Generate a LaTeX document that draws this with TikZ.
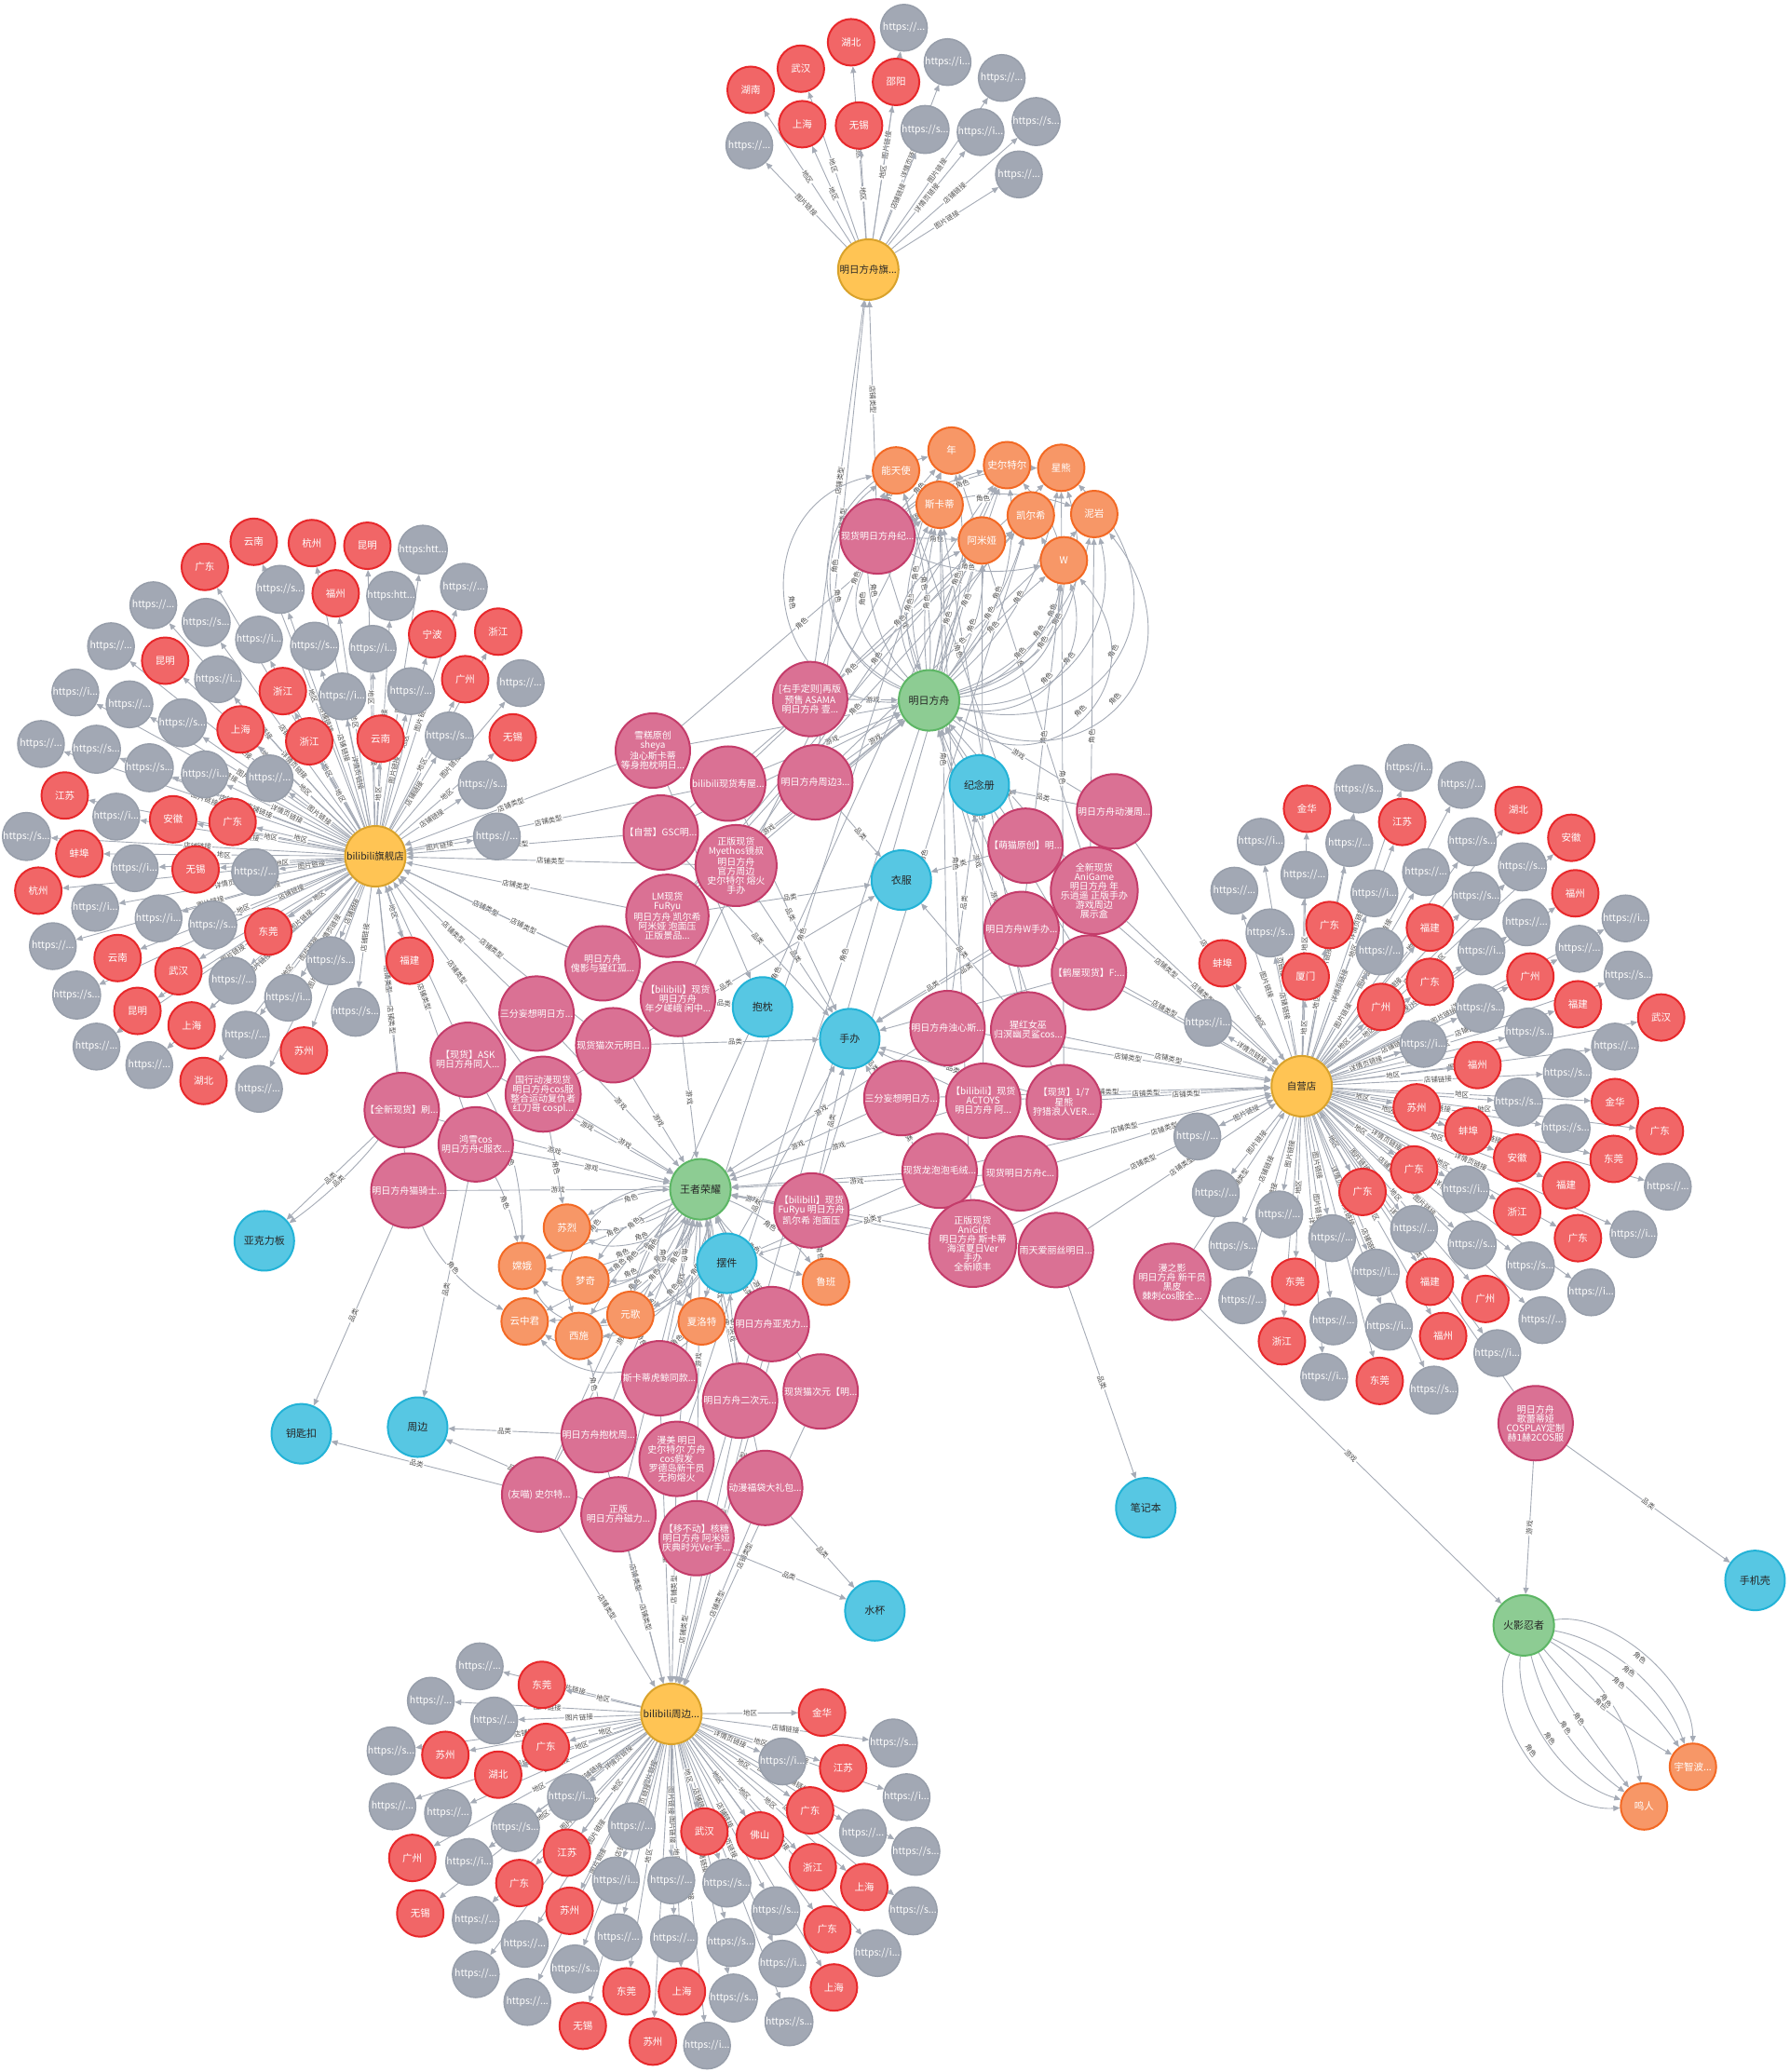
\documentclass[tikz,border=0pt]{standalone}
\usepackage{fontspec}
\setmainfont{Noto Sans CJK SC}
\usetikzlibrary{arrows.meta,calc}
\pgfdeclarelayer{back}
\pgfdeclarelayer{bg}
\pgfsetlayers{back,bg,main}
\definecolor{cgray}{HTML}{A2A8B4}
\definecolor{cgrayb}{HTML}{979EAA}
\definecolor{cred}{HTML}{F16667}
\definecolor{credb}{HTML}{E8282B}
\definecolor{cyel}{HTML}{FFC454}
\definecolor{cyelb}{HTML}{D9A22B}
\definecolor{cpink}{HTML}{DA7194}
\definecolor{cpinkb}{HTML}{C43C6A}
\definecolor{cblue}{HTML}{57C7E3}
\definecolor{cblueb}{HTML}{23B3D7}
\definecolor{cgreen}{HTML}{8DCC93}
\definecolor{cgreenb}{HTML}{5DB665}
\definecolor{corange}{HTML}{F79767}
\definecolor{coranb}{HTML}{F36924}
\definecolor{cedge}{HTML}{A5ABB6}
\definecolor{ctext}{HTML}{505050}
\expandafter\def\csname ut0\endcsname{https://...}
\expandafter\def\csname uti\endcsname{https://i...}
\expandafter\def\csname uts\endcsname{https://s...}
\expandafter\def\csname uth\endcsname{https:htt...}
\expandafter\def\csname ul0\endcsname{图片链接}
\expandafter\def\csname uli\endcsname{详情页链接}
\expandafter\def\csname uls\endcsname{店铺链接}
\expandafter\def\csname ulh\endcsname{图片链接}
\tikzset{
  nbase/.style={circle,inner sep=0pt,align=center,text=white,font=\fontsize{10.5}{10}\selectfont},
  gnode/.style={nbase,minimum size=50pt,fill=cgray,draw=cgrayb,line width=1.5pt},
  rnode/.style={nbase,minimum size=50pt,fill=cred,draw=credb,line width=2pt},
  onode/.style={nbase,minimum size=50pt,fill=corange,draw=coranb,line width=2pt},
  hnode/.style={nbase,minimum size=65pt,fill=cyel,draw=cyelb,line width=2pt,text=black!85,font=\fontsize{10.5}{11}\selectfont},
  pnode/.style={nbase,minimum size=80pt,fill=cpink,draw=cpinkb,line width=2pt,font=\fontsize{10}{10}\selectfont},
  bnode/.style={nbase,minimum size=64pt,fill=cblue,draw=cblueb,line width=2pt,text=black!85,font=\fontsize{11}{11}\selectfont},
  vnode/.style={nbase,minimum size=65pt,fill=cgreen,draw=cgreenb,line width=2pt,text=black!85,font=\fontsize{11}{11}\selectfont},
  lnk/.style={draw=cedge,line width=0.9pt,-{Triangle[length=7pt,width=6pt]}},
  elab/.style={midway,sloped,fill=white,inner sep=0.7pt,text=ctext,font=\fontsize{7.5}{7.5}\selectfont},
}
\newcommand\leafsG[3]{%
 \foreach \x/\y/\k [count=\i] in {#3} {
   \node[gnode] (#2\i) at (\x,\y) {\csname ut\k\endcsname};
   \begin{pgfonlayer}{bg}\draw[lnk] (#1) -- node[elab]{\csname ul\k\endcsname} (#2\i);\end{pgfonlayer}
 }}
\newcommand\leafsR[3]{%
 \foreach \x/\y/\nm [count=\i] in {#3} {
   \node[rnode] (#2\i) at (\x,\y) {\nm};
   \begin{pgfonlayer}{bg}\draw[lnk] (#1) -- node[elab]{地区} (#2\i);\end{pgfonlayer}
 }}
\begin{document}
\begin{tikzpicture}[x=1.41949pt,y=-1.41949pt]
\begin{pgfonlayer}{back}
\fill[white] (0,0) rectangle (1354,1568);
\end{pgfonlayer}
\useasboundingbox (0,0) rectangle (1354,1568);

% hubs
\node[hnode] (H1) at (657,204) {明日方舟旗...};
\node[hnode] (H2) at (284,648) {bilibili旗舰店};
\node[hnode] (H3) at (985,822) {自营店};
\node[hnode] (H4) at (508,1297) {bilibili周边...};

% games
\node[vnode] (G1) at (703,530) {明日方舟};
\node[vnode] (G2) at (530,900) {王者荣耀};
\node[vnode] (G3) at (1153,1230) {火影忍者};

% categories
\node[bnode] (C1) at (741,594) {纪念册};
\node[bnode] (C2) at (682,666) {衣服};
\node[bnode] (C3) at (577,762) {抱枕};
\node[bnode] (C4) at (643,786) {手办};
\node[bnode] (C5) at (550,956) {摆件};
\node[bnode] (C6) at (200,939) {亚克力板};
\node[bnode] (C7) at (228,1085) {钥匙扣};
\node[bnode] (C8) at (316,1080) {周边};
\node[bnode] (C9) at (867,1141) {笔记本};
\node[bnode] (C10) at (662,1219) {水杯};
\node[bnode] (C11) at (1328,1196) {手机壳};

% roles
\node[onode] (O1) at (678,356) {能天使};
\node[onode] (O2) at (720,341) {年};
\node[onode] (O3) at (762,352) {史尔特尔};
\node[onode] (O4) at (803,354) {星熊};
\node[onode] (O5) at (711,382) {斯卡蒂};
\node[onode] (O6) at (780,390) {凯尔希};
\node[onode] (O7) at (828,389) {泥岩};
\node[onode] (O8) at (743,409) {阿米娅};
\node[onode] (O9) at (805,424) {W};
\node[onode] (R1) at (429,929) {苏烈};
\node[onode] (R2) at (395,958) {嫦娥};
\node[onode] (R3) at (443,969) {梦奇};
\node[onode] (R4) at (397,1000) {云中君};
\node[onode] (R5) at (438,1011) {西施};
\node[onode] (R6) at (477,995) {元歌};
\node[onode] (R7) at (531,1000) {夏洛特};
\node[onode] (R8) at (625,970) {鲁班};
\node[onode] (R9) at (1281,1337) {宇智波...};
\node[onode] (R10) at (1244,1367) {鸣人};

% products
\node[pnode] (P1) at (664,406) {现货明日方舟纪...};
\node[pnode] (P2) at (613,529) {[右手定则]再版\\预售 ASAMA\\明日方舟 壹...};
\node[pnode] (P3) at (494,568) {雪糕原创\\sheya\\浊心斯卡蒂\\等身抱枕明日...};
\node[pnode] (P4) at (551,593) {bilibili现货寿屋...};
\node[pnode] (P5) at (617,592) {明日方舟周边3...};
\node[pnode] (P6) at (500,630) {【自营】GSC明...};
\node[pnode] (P7) at (557,655) {正版现货\\Myethos镜叔\\明日方舟\\官方周边\\史尔特尔 熔火\\手办};
\node[pnode] (P8) at (505,693) {LM现货\\FuRyu\\明日方舟 凯尔希\\阿米娅 泡面压\\正版景品...};
\node[pnode] (P9) at (456,729) {明日方舟\\傀影与猩红孤...};
\node[pnode] (P10) at (513,756) {【bilibili】现货\\明日方舟\\年夕嵯峨 闲中...};
\node[pnode] (P11) at (406,767) {三分妄想明日方...};
\node[pnode] (P12) at (464,791) {现货猫次元明日...};
\node[pnode] (P13) at (354,802) {【现货】ASK\\明日方舟同人...};
\node[pnode] (P14) at (411,828) {国行动漫现货\\明日方舟cos服\\整合运动复仇者\\红刀哥 cospl...};
\node[pnode] (P15) at (304,840) {【全新现货】刷...};
\node[pnode] (P16) at (360,866) {鸿雪cos\\明日方舟c服衣...};
\node[pnode] (P17) at (309,901) {明日方舟猫骑士...};
\node[pnode] (P18) at (843,614) {明日方舟动漫周...};
\node[pnode] (P19) at (776,640) {【萌猫原创】明...};
\node[pnode] (P20) at (828,674) {全新现货\\AniGame\\明日方舟 年\\乐逍遥 正版手办\\游戏周边\\展示盒};
\node[pnode] (P21) at (773,703) {明日方舟W手办...};
\node[pnode] (P22) at (824,736) {【鹤屋现货】F:...};
\node[pnode] (P23) at (717,778) {明日方舟浊心斯...};
\node[pnode] (P24) at (778,779) {猩红女巫\\归溟幽灵鲨cos...};
\node[pnode] (P25) at (682,831) {三分妄想明日方...};
\node[pnode] (P26) at (744,833) {【bilibili】现货\\ACTOYS\\明日方舟 阿...};
\node[pnode] (P27) at (805,834) {【现货】1/7\\星熊\\狩猎浪人VER...};
\node[pnode] (P28) at (711,886) {现货龙泡泡毛绒...};
\node[pnode] (P29) at (772,888) {现货明日方舟c...};
\node[pnode] (P30) at (614,916) {【bilibili】现货\\FuRyu 明日方舟\\凯尔希 泡面压};
\node[pnode] (P31) at (736,941) {正版现货\\AniGift\\明日方舟 斯卡蒂\\海滨夏日Ver\\手办\\全新顺丰};
\node[pnode] (P32) at (799,946) {雨天爱丽丝明日...};
\node[pnode] (P33) at (887,970) {漫之影\\明日方舟 新干员\\黑皮\\棘刺cos服全...};
\node[pnode] (P34) at (584,1002) {明日方舟亚克力...};
\node[pnode] (P35) at (499,1043) {斯卡蒂虎鲸同款...};
\node[pnode] (P36) at (560,1060) {明日方舟二次元...};
\node[pnode] (P37) at (621,1053) {现货猫次元【明...};
\node[pnode] (P38) at (453,1086) {明日方舟抱枕周...};
\node[pnode] (P39) at (512,1104) {漫美 明日\\史尔特尔 方舟\\cos假发\\罗德岛新干员\\无拘熔火};
\node[pnode] (P40) at (579,1126) {动漫福袋大礼包...};
\node[pnode] (P41) at (408,1131) {(友喵) 史尔特...};
\node[pnode] (P42) at (468,1146) {正版\\明日方舟磁力...};
\node[pnode] (P43) at (527,1164) {【移不动】核糖\\明日方舟 阿米娅\\庆典时光Ver手...};
\node[pnode] (P44) at (1162,1077) {明日方舟\\歌蕾蒂娅\\COSPLAY定制\\赫1赫2COS服};

% leaves of 明日方舟旗...
\leafsG{H1}{TG}{684/21/0,717/47/i,758/59/0,700/98/s,742/100/i,784/92/s,567/110/0,771/132/0}
\leafsR{H1}{TR}{644/32/湖北,606/52/武汉,678/62/邵阳,568/68/湖南,607/94/上海,650/95/无锡}

% leaves of bilibili旗舰店
\leafsG{H2}{LG}{320/416/h,212/446/s,296/451/h,351/444/0,116/458/0,156/471/s,196/484/i,238/489/s,282/491/i,84/489/0,165/514/i,259/527/i,311/523/0,394/517/0,57/524/i,98/533/0,138/547/s,340/557/s,31/563/0,73/567/s,113/581/s,155/586/i,204/589/0,365/594/s,88/618/i,20/633/s,376/633/0,102/657/i,193/660/0,72/687/i,120/695/i,161/700/s,40/716/0,250/727/s,176/742/0,58/753/s,218/755/i,269/766/s,186/783/0,73/792/0,113/806/0,196/824/0}
\leafsR{H2}{LR}{192/410/云南,236/411/杭州,278/413/昆明,155/429/广东,254/449/福州,327/480/宁波,377/478/浙江,125/500/昆明,214/523/浙江,352/514/广州,182/552/上海,234/561/浙江,288/559/云南,388/558/无锡,49/602/江苏,131/620/安徽,176/622/广东,60/646/蚌埠,148/658/无锡,29/674/杭州,203/705/东莞,89/725/云南,135/735/武汉,310/727/福建,104/765/昆明,145/776/上海,230/795/苏州,154/818/湖北}

% leaves of 自营店
\leafsG{H3}{RG}{1066/581/i,1028/597/s,1106/594/0,954/637/i,1021/638/0,1114/637/s,934/674/0,987/662/0,1079/660/0,1152/656/s,1040/676/i,1117/678/s,961/706/s,1155/698/0,1230/695/i,1044/720/0,1121/720/i,1195/718/0,1232/738/s,914/774/i,1120/763/s,1077/790/i,1157/781/s,1222/792/0,1186/812/s,1149/834/s,1185/854/s,1262/898/0,906/860/0,1109/900/i,1236/934/i,920/903/0,968/919/0,1070/930/0,933/943/s,1008/937/0,1114/942/s,1158/958/s,1204/978/i,1041/963/i,1167/999/0,940/984/0,1009/1000/0,1051/1004/i,1133/1024/i,1002/1042/i,1085/1052/s}
\leafsR{H3}{RR}{989/612/金华,1061/622/江苏,1149/613/湖北,1189/634/安徽,1192/676/福州,1006/700/广东,1082/702/福建,925/729/蚌埠,988/739/厦门,1082/743/广东,1045/762/广州,1158/739/广州,1194/760/福建,1257/770/武汉,1118/806/福州,1072/838/苏州,1222/834/金华,1111/856/蚌埠,1256/856/广东,1148/876/安徽,1221/877/东莞,1070/885/广东,1185/897/福建,1148/917/浙江,1194/937/广东,1031/902/广东,980/970/东莞,1082/970/福建,1124/983/广州,970/1015/浙江,1092/1011/福州,1044/1045/东莞}

% leaves of bilibili周边
\leafsG{H4}{BG}{363/1261/0,326/1287/0,374/1302/0,676/1319/s,296/1325/s,592/1333/i,297/1367/0,339/1372/0,432/1360/i,686/1360/i,390/1383/s,478/1382/0,653/1387/0,693/1401/s,355/1409/i,466/1423/i,508/1423/0,550/1425/s,691/1446/s,360/1453/0,587/1446/s,397/1471/0,468/1466/0,510/1467/0,553/1470/s,664/1478/i,592/1486/i,360/1494/0,435/1490/s,555/1512/s,399/1515/0,597/1530/s,535/1548/i}
\leafsR{H4}{BR}{410/1275/东莞,622/1296/金华,337/1328/苏州,413/1322/广东,377/1343/湖北,638/1338/江苏,613/1370/广东,533/1386/武汉,575/1389/佛山,312/1406/广州,429/1402/江苏,615/1413/浙江,393/1425/广东,654/1428/上海,318/1448/无锡,431/1446/苏州,626/1460/广东,474/1507/东莞,516/1507/上海,631/1504/上海,441/1533/无锡,494/1545/苏州}

\begin{pgfonlayer}{bg}
% store type
\foreach \a/\b in {P1/H1,P2/H1,P5/H1,P3/H2,P4/H2,P6/H2,P7/H2,P8/H2,P9/H2,P10/H2,P11/H2,P12/H2,P13/H2,P14/H2,P15/H2,P16/H2,P17/H2,P18/H3,P19/H3,P20/H3,P21/H3,P22/H3,P23/H3,P24/H3,P25/H3,P26/H3,P27/H3,P28/H3,P29/H3,P31/H3,P32/H3,P33/H3,P44/H3,P30/H4,P34/H4,P35/H4,P36/H4,P37/H4,P38/H4,P39/H4,P40/H4,P41/H4,P42/H4,P43/H4}
  \draw[lnk] (\a) -- node[elab]{店铺类型} (\b);
% game
\foreach \a/\b in {P1/G1,P2/G1,P3/G1,P4/G1,P5/G1,P6/G1,P7/G1,P8/G1,P9/G1,P18/G1,P19/G1,P20/G1,P21/G1,P22/G1,P24/G1,P27/G1,P10/G2,P11/G2,P12/G2,P13/G2,P14/G2,P15/G2,P16/G2,P17/G2,P23/G2,P25/G2,P26/G2,P28/G2,P29/G2,P30/G2,P31/G2,P32/G2,P34/G2,P35/G2,P36/G2,P37/G2,P38/G2,P39/G2,P40/G2,P41/G2,P42/G2,P43/G2,P33/G3,P44/G3}
  \draw[lnk] (\a) -- node[elab]{游戏} (\b);
% category
\foreach \a/\b in {P23/C1,P18/C1,P5/C2,P19/C2,P24/C2,P8/C2,P14/C2,P3/C3,P10/C3,P4/C4,P6/C4,P7/C4,P12/C4,P20/C4,P21/C4,P22/C4,P25/C4,P26/C4,P27/C4,P30/C4,P31/C4,P35/C4,P28/C5,P29/C5,P34/C5,P36/C5,P15/C6,P17/C7,P41/C7,P16/C8,P38/C8,P42/C8,P32/C9,P40/C10,P43/C10,P44/C11}
  \draw[lnk] (\a) -- node[elab]{品类} (\b);
% straight role links
\foreach \a/\b in {P1/O1,P1/O2,P1/O5,P1/O8,P3/O5,P7/O3,P8/O6,P8/O8,P20/O2,P21/O9,P23/O5,P24/O5,P26/O8,P27/O4,P30/O6,P31/O5,P10/O2,P35/O5,P39/O3,P41/O3,P43/O8,P5/O7,P22/O7,P19/O1,P2/O1,P4/O4,P6/O6,P14/R1,P35/R6,P34/R7,P30/R8}
  \draw[lnk] (\a) -- node[elab]{角色} (\b);
% curved links: from/to/bend/looseness
\foreach \a/\b/\g/\f [evaluate=\g as \ng using -1*\g] in {P15/C6/8/.39,
  G1/O1/35/.39,G1/O1/60/.5,G1/O1/85/.7,G1/O1/-10/.39,
  G1/O2/20/.39,G1/O2/-15/.39,G1/O2/70/.6,
  G1/O3/10/.39,G1/O3/-25/.39,G1/O3/-60/.55,
  G1/O4/-20/.39,G1/O4/-45/.5,G1/O4/-75/.7,
  G1/O5/25/.39,G1/O5/8/.39,G1/O5/55/.6,
  G1/O6/-10/.39,G1/O6/15/.39,G1/O6/-55/.55,
  G1/O7/-30/.39,G1/O7/-55/.5,G1/O7/-80/.75,
  G1/O8/10/.39,G1/O8/-20/.39,G1/O8/45/.55,
  G1/O9/-35/.39,G1/O9/-60/.55,G1/O9/5/.39,G1/O9/-85/.8,
  P1/O4/20/.39,P1/O7/25/.39,P1/O9/-20/.39,P1/O3/15/.39,
  G2/R1/20/.39,G2/R1/-15/.39,G2/R1/45/.39,
  G2/R2/30/.39,G2/R2/60/.39,G2/R2/5/.39,G2/R2/85/.6,
  G2/R3/15/.39,G2/R3/-20/.39,G2/R3/40/.39,
  G2/R4/35/.39,G2/R4/70/.39,G2/R4/10/.39,G2/R4/85/.65,
  G2/R5/20/.39,G2/R5/-10/.39,G2/R5/50/.39,G2/R5/-55/.5,
  G2/R6/15/.39,G2/R6/-20/.39,G2/R6/40/.5,
  G2/R7/10/.39,G2/R7/-25/.39,G2/R7/-50/.5,
  G2/R8/-20/.39,G2/R8/15/.39,
  P16/R2/10/.39,P17/R4/-20/.39,P13/R2/15/.39,P38/R5/-10/.39,
  G3/R9/30/.39,G3/R9/50/.39,G3/R9/15/.39,G3/R9/-10/.39,
  G3/R10/-20/.39,G3/R10/-40/.39,G3/R10/-60/.45,G3/R10/-5/.39,G3/R10/25/.39}
{
  \coordinate (cA) at ($(\a)!\f!\g:(\b)$);
  \coordinate (cB) at ($(\b)!\f!\ng:(\a)$);
  \draw[lnk] (\a) .. controls (cA) and (cB) .. (\b);
  \coordinate (cM) at ($0.125*(\a)+0.375*(cA)+0.375*(cB)+0.125*(\b)$);
  \coordinate (cL) at ($(cM)-0.05*(\b)+0.05*(\a)$);
  \coordinate (cR) at ($(cM)+0.05*(\b)-0.05*(\a)$);
  \path (cL) -- node[elab]{\ifnum\pdfstrcmp{\a}{P15}=0 品类\else 角色\fi} (cR);
}
\end{pgfonlayer}
\end{tikzpicture}
\end{document}
